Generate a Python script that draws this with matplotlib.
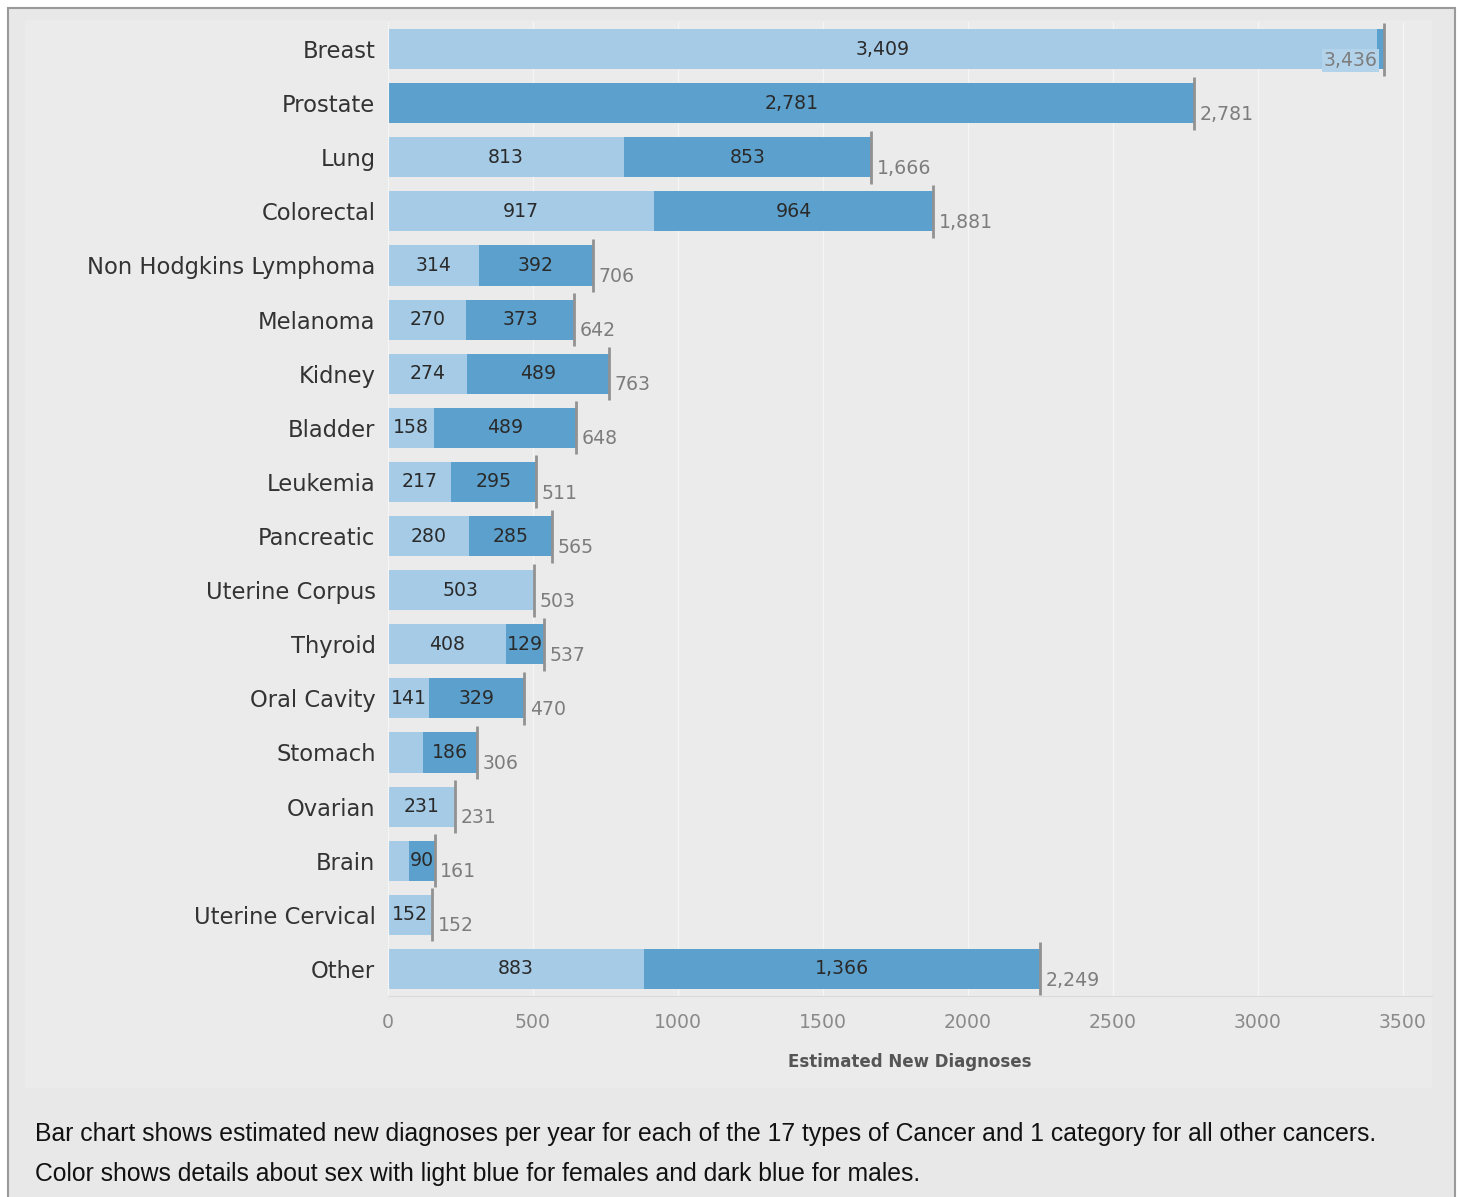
import matplotlib.pyplot as plt
from matplotlib.patches import Rectangle

cancers = ['Breast', 'Prostate', 'Lung', 'Colorectal', 'Non Hodgkins Lymphoma', 'Melanoma',
           'Kidney', 'Bladder', 'Leukemia', 'Pancreatic', 'Uterine Corpus', 'Thyroid',
           'Oral Cavity', 'Stomach', 'Ovarian', 'Brain', 'Uterine Cervical', 'Other']
female = [3409, 0, 813, 917, 314, 270, 274, 158, 217, 280, 503, 408, 141, 120, 231, 71, 152, 883]
male = [27, 2781, 853, 964, 392, 373, 489, 489, 295, 285, 0, 129, 329, 186, 0, 90, 0, 1366]
totals = [3436, 2781, 1666, 1881, 706, 642, 763, 648, 511, 565, 503, 537, 470, 306, 231, 161, 152, 2249]
# segment labels that the original leaves out (too narrow)
hidden = [('Breast', 'm'), ('Stomach', 'f'), ('Brain', 'f')]

light = '#a5cbe7'
dark = '#5ca1cd'

W, H = 1458, 1197
fig = plt.figure(figsize=(W / 100, H / 100), dpi=100)
fig.patch.set_facecolor('white')


def fx(px):
    return px / W


def fy(py):
    return 1 - py / H


# outer frame and inner pane
fig.add_artist(Rectangle((fx(8), -0.01), fx(1455) - fx(8), fy(8) + 0.01, transform=fig.transFigure,
                         facecolor='#e8e8e8', edgecolor='#9a9a9a', lw=1.5, zorder=-10))
fig.add_artist(Rectangle((fx(25), fy(1088)), fx(1432) - fx(25), fy(20) - fy(1088), transform=fig.transFigure,
                         facecolor='#ebebeb', edgecolor='none', zorder=-9))

ax = fig.add_axes([fx(388), fy(996), fx(1432) - fx(388), fy(22) - fy(996)])
ax.set_facecolor('#ebebeb')

y = list(range(len(cancers)))
ax.barh(y, female, height=0.74, color=light, zorder=2)
ax.barh(y, male, left=female, height=0.74, color=dark, zorder=2)
ax.vlines(totals, [v - 0.49 for v in y], [v + 0.49 for v in y], color='#929292', lw=2, zorder=3)

for i, name in enumerate(cancers):
    f, m = female[i], male[i]
    if f > 0 and (name, 'f') not in hidden:
        ax.text(f / 2, i, f"{f:,}", ha='center', va='center', fontsize=13.6, color='#2a2a2a', zorder=4)
    if m > 0 and (name, 'm') not in hidden:
        ax.text(f + m / 2, i, f"{m:,}", ha='center', va='center', fontsize=13.6, color='#2a2a2a', zorder=4)
    if i == 0:
        ax.annotate(f"{totals[i]:,}", (totals[i], i), xytext=(-5, -8), textcoords='offset points',
                    ha='right', va='center', fontsize=13.6, color='#7d7d7d', zorder=4,
                    bbox=dict(boxstyle='square,pad=0.1', facecolor='#b3d3ea', edgecolor='none'))
    else:
        ax.annotate(f"{totals[i]:,}", (totals[i], i), xytext=(4, -8), textcoords='offset points',
                    ha='left', va='center', fontsize=13.6, color='#7d7d7d', zorder=4)

ax.set_xlim(0, 3600)
ax.set_ylim(len(cancers) - 0.5, -0.5)
ax.set_xticks(range(0, 3501, 500))
ax.set_xticklabels([str(v) for v in range(0, 3501, 500)], fontsize=13.6, color='#8a8a8a')
ax.set_yticks(y)
ax.set_yticklabels(cancers, fontsize=16.3, color='#333333')
ax.tick_params(axis='both', length=0)
ax.tick_params(axis='x', pad=12)
ax.tick_params(axis='y', pad=9)
ax.grid(axis='x', color='#f5f5f5', lw=1)
ax.set_axisbelow(True)
for s in ['top', 'right']:
    ax.spines[s].set_visible(False)
ax.spines['left'].set_color('#f5f5f5')
ax.spines['bottom'].set_color('#dadada')

fig.text(fx(910), fy(1062), 'Estimated New Diagnoses', ha='center', va='center',
         fontsize=12, fontweight='bold', color='#555555')

fig.text(fx(35), fy(1134), 'Bar chart shows estimated new diagnoses per year for each of the 17 types of Cancer '
         'and 1 category for all other cancers.', ha='left', va='center', fontsize=17.8,
         family='Liberation Sans', color='#111111')
fig.text(fx(35), fy(1174), 'Color shows details about sex with light blue for females and dark blue for males.',
         ha='left', va='center', fontsize=17.8, family='Liberation Sans', color='#111111')

fig.savefig('out.png', dpi=100)
